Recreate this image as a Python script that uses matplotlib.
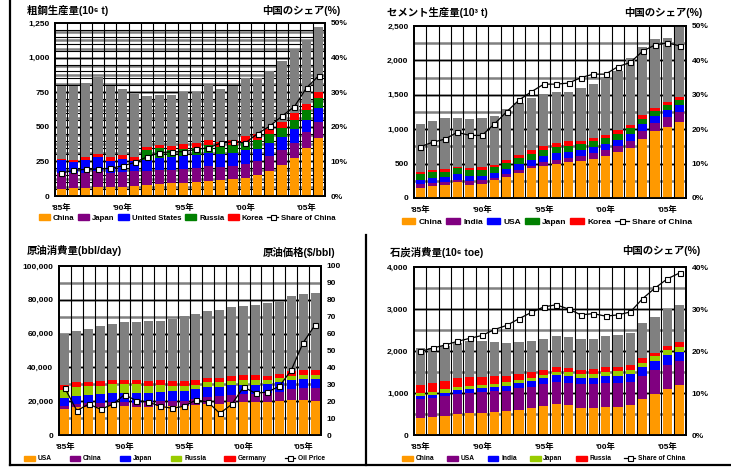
import numpy as np
import matplotlib
matplotlib.use('Agg')
import matplotlib.pyplot as plt
from matplotlib.patches import Patch
from matplotlib.lines import Line2D

plt.rcParams['font.family'] = ['Liberation Sans', 'Noto Sans CJK JP', 'DejaVu Sans']
plt.rcParams['font.weight'] = 'bold'

W, H = 731, 468

years = list(range(1985, 2007))
year_ticks = [0, 5, 10, 15, 20]
year_labels = ["'85年", "'90年", "'95年", "'00年", "'05年"]

# crude steel (10^6 t)
steel_china = [53, 58, 58, 65, 65, 65, 72, 80, 87, 94, 94, 101, 109, 116, 123, 130, 152, 181, 224, 273, 345, 417]
steel_japan = [114, 111, 111, 114, 104, 109, 111, 103, 101, 94, 101, 99, 106, 94, 92, 102, 104, 109, 109, 111, 116, 116]
steel_usa = [91, 77, 92, 103, 84, 94, 68, 78, 85, 94, 95, 97, 96, 92, 96, 101, 87, 94, 94, 101, 89, 102]
steel_russia = [0, 0, 0, 0, 0, 0, 0, 72, 72, 53, 53, 53, 58, 53, 61, 60, 65, 62, 63, 65, 68, 72]
steel_korea = [12, 15, 20, 22, 26, 25, 30, 24, 26, 27, 31, 34, 36, 34, 35, 42, 41, 40, 46, 50, 47, 47]
steel_world = [792, 792, 818, 861, 792, 775, 738, 724, 731, 731, 753, 753, 804, 775, 792, 852, 852, 905, 977, 1064, 1122, 1221]
steel_share = [6.6, 7.4, 7.7, 7.8, 8.0, 8.7, 9.7, 11.3, 12.5, 12.8, 12.8, 13.5, 13.9, 15.3, 15.7, 15.3, 18.0, 20.2, 23.1, 25.8, 31.3, 34.8]

# cement
cem_china = [150, 179, 193, 227, 193, 208, 256, 309, 368, 430, 469, 488, 517, 532, 571, 604, 662, 730, 861, 977, 1035, 1098]
cem_india = [48, 34, 44, 39, 58, 48, 39, 44, 43, 39, 48, 63, 63, 72, 82, 87, 97, 102, 116, 116, 145, 150]
cem_usa = [68, 82, 72, 87, 73, 68, 73, 73, 77, 87, 92, 97, 92, 97, 92, 92, 87, 96, 101, 97, 101, 106]
cem_japan = [87, 77, 73, 77, 77, 82, 82, 82, 92, 82, 87, 87, 87, 82, 87, 83, 87, 87, 63, 72, 73, 68]
cem_korea = [19, 29, 40, 25, 29, 45, 34, 45, 49, 60, 63, 70, 63, 49, 43, 48, 49, 49, 70, 48, 43, 53]
cem_world = [1069, 1112, 1170, 1170, 1151, 1170, 1185, 1296, 1388, 1460, 1509, 1547, 1543, 1605, 1659, 1755, 1847, 2041, 2200, 2311, 2321, 2500]
cem_share = [14.9, 16.2, 17.1, 19.1, 18.2, 18.2, 21.5, 25.1, 28.5, 30.9, 33.1, 33.1, 33.4, 35.0, 36.0, 36.0, 38.2, 39.4, 42.7, 44.5, 45.1, 44.2]

# crude oil consumption
oil_usa = [15400, 16400, 16800, 16800, 17200, 17200, 16800, 16800, 17200, 17000, 17000, 17800, 18300, 18500, 19500, 19500, 19500, 19500, 20100, 20700, 20700, 20400]
oil_china = [1800, 1900, 2000, 2200, 2300, 2300, 2400, 2700, 2900, 3200, 3400, 3600, 4100, 4300, 4400, 4700, 4800, 5300, 5600, 6500, 7000, 7500]
oil_japan = [4500, 4700, 4700, 5100, 5100, 5200, 5400, 5600, 5400, 5800, 5800, 6000, 5800, 5400, 5700, 5500, 5400, 5200, 5500, 5300, 5300, 5300]
oil_russia = [4900, 5500, 5300, 4900, 5300, 5300, 5300, 4100, 4100, 3000, 3000, 2400, 3000, 3000, 2400, 3000, 3000, 2400, 2400, 2400, 2400, 2400]
oil_germany = [2900, 3000, 2800, 2800, 2600, 2600, 2700, 2900, 2800, 2900, 2900, 2900, 2800, 2800, 2800, 2700, 2800, 2800, 2700, 2800, 2800, 2800]
oil_world = [60000, 61500, 62700, 64500, 65700, 66900, 66900, 67700, 67700, 68600, 70200, 71600, 73600, 74200, 75900, 76500, 76900, 78100, 79300, 82100, 83400, 84000]
oil_price = [27.6, 14.4, 18.3, 15.2, 18.1, 23.9, 20.3, 19.5, 17.0, 15.8, 17.0, 20.7, 19.5, 12.8, 18.1, 28.4, 24.7, 25.4, 28.8, 38.3, 54.6, 65.1]

# coal consumption (10^6 toe)
coal_china = [402, 426, 450, 497, 521, 521, 544, 568, 592, 639, 686, 734, 710, 639, 639, 663, 663, 710, 852, 970, 1089, 1183]
coal_usa = [450, 450, 473, 473, 473, 497, 497, 473, 520, 497, 521, 520, 521, 568, 568, 568, 568, 544, 544, 568, 568, 568]
coal_india = [71, 71, 71, 95, 95, 94, 95, 119, 119, 142, 142, 166, 165, 142, 142, 165, 165, 190, 213, 213, 236, 237]
coal_japan = [79, 71, 95, 71, 71, 71, 71, 94, 71, 71, 71, 71, 95, 95, 95, 95, 119, 94, 95, 119, 119, 119]
coal_russia = [181, 213, 189, 213, 213, 190, 189, 142, 142, 142, 118, 118, 95, 94, 118, 118, 94, 119, 118, 94, 118, 118]
coal_world = [2083, 2083, 2130, 2193, 2240, 2249, 2225, 2201, 2225, 2249, 2296, 2367, 2343, 2296, 2296, 2367, 2391, 2438, 2655, 2817, 3006, 3101]
coal_share = [19.9, 20.7, 21.4, 22.3, 23.0, 23.7, 25.1, 26.1, 27.7, 29.2, 30.5, 31.0, 30.0, 28.6, 28.9, 28.3, 28.6, 29.3, 32.5, 35.0, 37.2, 38.6]

ORANGE = '#FF9900'
PURPLE = '#800080'
BLUE = '#0000FF'
GREEN = '#008000'
RED = '#FF0000'
LIME = '#99CC00'
GRAY = '#808080'


def px_rect(l, t, r, b):
    return [l / W, 1 - b / H, (r - l) / W, (b - t) / H]


def panel(fig, rect, series, colors, names, world, line, line_name,
          ymax, ystep, black_step, gray_step, y2max, y2step, pct,
          leg_box, leg_fs, expand=True, colsp=1.0, hlen=1.6):
    ax = fig.add_axes(rect)
    x = np.arange(len(world))
    bottom = np.zeros(len(world))
    for vals, c in zip(series, colors):
        ax.bar(x, vals, 0.75, bottom=bottom, color=c, zorder=3, linewidth=0)
        bottom = bottom + np.array(vals)
    ax.bar(x, np.array(world) - bottom, 0.75, bottom=bottom, color=GRAY, zorder=3, linewidth=0)

    for v in np.arange(gray_step, ymax, gray_step):
        ax.axhline(v, color=GRAY, lw=1.8, zorder=1)
    for v in np.arange(black_step, ymax, black_step):
        ax.axhline(v, color='black', lw=0.8, zorder=2)
    for i in range(len(world) - 1):
        ax.axvline(i + 0.5, color='black', lw=0.8, zorder=2)

    ax.set_xlim(-0.5, len(world) - 0.5)
    ax.set_ylim(0, ymax)
    ax.set_yticks(np.arange(0, ymax + 1, ystep))
    ax.set_yticklabels([f'{v:,.0f}' for v in np.arange(0, ymax + 1, ystep)])
    ax.set_xticks(year_ticks)
    ax.set_xticklabels(year_labels)
    ax.tick_params(length=0, labelsize=6, pad=4)
    ax.tick_params(axis='x', pad=6)

    ax2 = ax.twinx()
    ax2.plot(x, line, color='black', lw=0.9, marker='s', ms=3.6,
             mfc='white', mec='black', mew=0.8, zorder=5)
    ax2.set_ylim(0, y2max)
    t2 = np.arange(0, y2max + 0.1, y2step)
    ax2.set_yticks(t2)
    ax2.set_yticklabels([f'{v:.0f}%' if pct else f'{v:.0f}' for v in t2])
    ax2.tick_params(length=0, labelsize=6, pad=4)
    for a in (ax, ax2):
        for s in a.spines.values():
            s.set_linewidth(1.3)
            s.set_color('black')

    handles = [Patch(color=c) for c in colors]
    handles.append(Line2D([], [], color='black', lw=0.9, marker='s', ms=3.6,
                          mfc='white', mec='black', mew=0.8))
    l, cy, r = leg_box
    ax.legend(handles, names + [line_name], loc='center', ncol=6,
              bbox_to_anchor=(l / W, 1 - (cy + 6) / H, (r - l) / W, 12 / H),
              bbox_transform=fig.transFigure,
              mode='expand' if expand else None, frameon=False,
              fontsize=leg_fs, handlelength=hlen, handleheight=0.8,
              handletextpad=0.4, columnspacing=colsp,
              borderaxespad=0, borderpad=0)
    return ax


fig = plt.figure(figsize=(W / 100, H / 100), dpi=100)

panel(fig, px_rect(55, 23, 325, 196),
      [steel_china, steel_japan, steel_usa, steel_russia, steel_korea],
      [ORANGE, PURPLE, BLUE, GREEN, RED],
      ['China', 'Japan', 'United States', 'Russia', 'Korea'],
      steel_world, steel_share, 'Share of China',
      1250, 250, 50, 62.5, 50, 10, True, (40, 218, 335), 5.6,
      expand=False, colsp=0.45, hlen=1.4)

panel(fig, px_rect(414, 26, 686, 198),
      [cem_china, cem_india, cem_usa, cem_japan, cem_korea],
      [ORANGE, PURPLE, BLUE, GREEN, RED],
      ['China', 'India', 'USA', 'Japan', 'Korea'],
      cem_world, cem_share, 'Share of China',
      2500, 500, 500, 250, 50, 10, True, (402, 222, 692), 6)

panel(fig, px_rect(59, 266, 321, 435),
      [oil_usa, oil_china, oil_japan, oil_russia, oil_germany],
      [ORANGE, PURPLE, BLUE, LIME, RED],
      ['USA', 'China', 'Japan', 'Russia', 'Germany'],
      oil_world, oil_price, 'Oil Price',
      100000, 20000, 20000, 10000, 100, 10, False, (24, 459, 325), 4.8)

panel(fig, px_rect(414, 267, 686, 435),
      [coal_china, coal_usa, coal_india, coal_japan, coal_russia],
      [ORANGE, PURPLE, BLUE, LIME, RED],
      ['China', 'USA', 'India', 'Japan', 'Russia'],
      coal_world, coal_share, 'Share of China',
      4000, 1000, 1000, 500, 40, 10, True, (402, 459, 685), 4.8)

title_kw = dict(fontsize=7.5, fontweight='bold', va='center')
fig.text(27 / W, 1 - 11 / H, '粗鋼生産量(10⁶ t)', ha='left', **title_kw)
fig.text(340 / W, 1 - 11 / H, '中国のシェア(%)', ha='right', **title_kw)
fig.text(387 / W, 1 - 13 / H, 'セメント生産量(10³ t)', ha='left', **title_kw)
fig.text(702 / W, 1 - 13 / H, '中国のシェア(%)', ha='right', **title_kw)
fig.text(27 / W, 1 - 250 / H, '原油消費量(bbl/day)', ha='left', **title_kw)
fig.text(335 / W, 1 - 252 / H, '原油価格($/bbl)', ha='right', **title_kw)
fig.text(390 / W, 1 - 252 / H, '石炭消費量(10⁶ toe)', ha='left', **title_kw)
fig.text(700 / W, 1 - 250 / H, '中国のシェア(%)', ha='right', **title_kw)


# outer frame lines
def fig_line(xs, ys, lw):
    fig.add_artist(Line2D([v / W for v in xs], [1 - v / H for v in ys],
                          color='black', lw=lw, transform=fig.transFigure))


fig_line([9.5, 9.5], [0, 465], 1.6)
fig_line([9.5, 731], [465, 465], 1.6)
fig_line([365.5, 365.5], [235, 465], 1.6)

fig.savefig('out.png', dpi=100)
